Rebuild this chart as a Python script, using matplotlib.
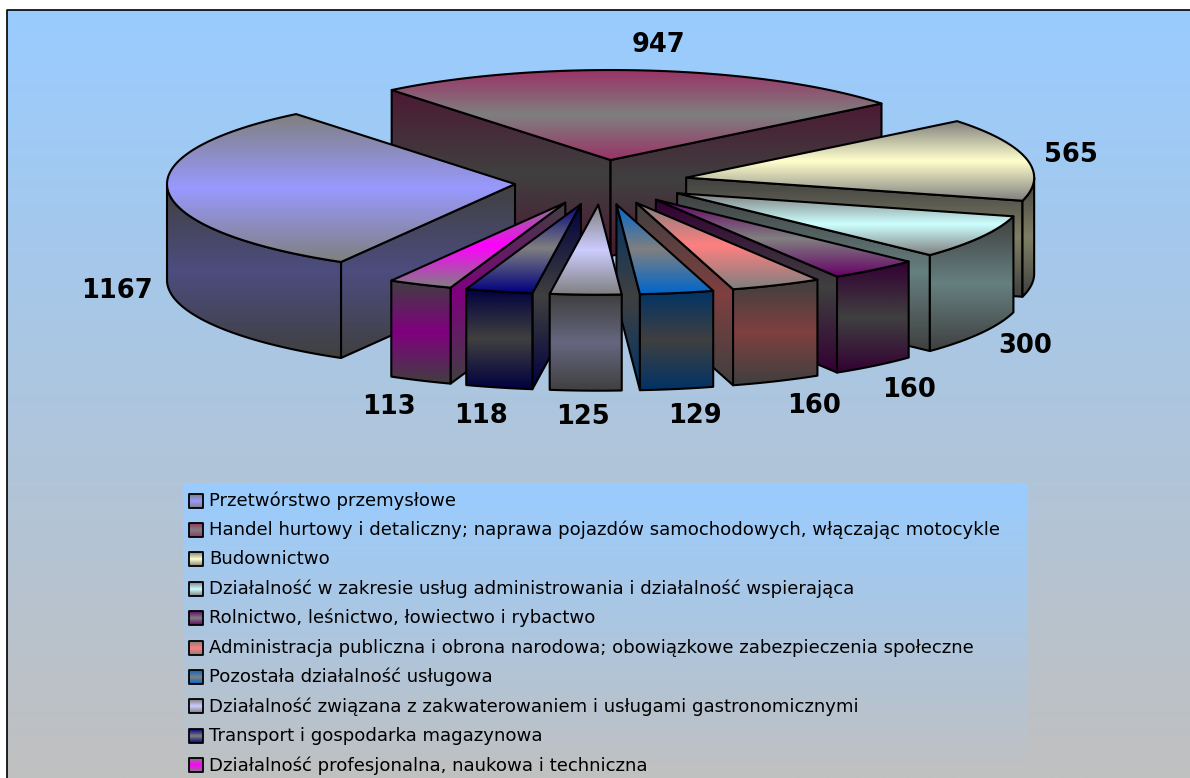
import matplotlib
matplotlib.use('Agg')
import matplotlib.pyplot as plt
import numpy as np
from matplotlib.patches import Polygon

categories = [
    'Przetwórstwo przemysłowe',
    'Handel hurtowy i detaliczny; naprawa pojazdów samochodowych, włączając motocykle',
    'Budownictwo',
    'Działalność w zakresie usług administrowania i działalność wspierająca',
    'Rolnictwo, leśnictwo, łowiectwo i rybactwo',
    'Administracja publiczna i obrona narodowa; obowiązkowe zabezpieczenia społeczne',
    'Pozostała działalność usługowa',
    'Działalność związana z zakwaterowaniem i usługami gastronomicznymi',
    'Transport i gospodarka magazynowa',
    'Działalność profesjonalna, naukowa i techniczna',
]
values = [1167, 947, 565, 300, 160, 160, 129, 125, 118, 113]
colors = ['#9999FF', '#993366', '#FFFFCC', '#CCFFFF', '#660066',
          '#FF8080', '#0066CC', '#CCCCFF', '#000080', '#FF00FF']
# True: grey in the middle of the gradient, colour at the ends
grey_middle = [False, True, False, False, True, False, True, False, True, False]
label_xy = [(117, 291), (658, 45), (1071, 155), (1025, 346), (909, 390),
            (814, 406), (695, 416), (583, 417), (481, 416), (389, 407)]

# pie geometry, in pixels
CX, CY = 601.4, 182.3
RX, RY = 348, 90
DEPTH = 96
EXPLODE = 0.249
START = 240.0

fig = plt.figure(figsize=(11.9, 7.78), dpi=100, facecolor='white')
ax = fig.add_axes([0, 0, 1, 1])
ax.axis('off')

z = [1]


def next_z():
    z[0] += 1
    return z[0]


def gradient(c_a, c_b, linear=False, n=256):
    # c_a at the ends and c_b in the middle, or plain a to b when linear
    a = np.array(matplotlib.colors.to_rgb(c_a))
    b = np.array(matplotlib.colors.to_rgb(c_b))
    t = np.linspace(0, 1, n)[:, None]
    if linear:
        return (a * (1 - t) + b * t)[:, None, :]
    m = 1 - np.abs(2 * t - 1)
    return (a * (1 - m) + b * m)[:, None, :]


def fill_poly(pts, grad, lw=1.5):
    pts = np.array(pts)
    zz = next_z()
    im = ax.imshow(grad, extent=(pts[:, 0].min(), pts[:, 0].max(), pts[:, 1].max(), pts[:, 1].min()),
                   aspect='auto', interpolation='bilinear', zorder=zz)
    p = Polygon(pts, closed=True, facecolor='none', edgecolor='black', lw=lw,
                joinstyle='round', zorder=zz + 0.5)
    ax.add_patch(p)
    im.set_clip_path(p)


def face_grad(color, grey_mid, shade=1.0):
    rgb = tuple(np.array(matplotlib.colors.to_rgb(color)) * shade)
    grey = (0.5 * shade, 0.5 * shade, 0.5 * shade)
    if grey_mid:
        return gradient(rgb, grey)
    return gradient(grey, rgb)


def arc(x0, y0, t1, t2, drop=0):
    t = np.radians(np.linspace(t1, t2, 80))
    return np.column_stack([x0 + RX * np.cos(t), y0 - RY * np.sin(t) + drop])


# chart area, runs off the right and bottom of the picture
ax.imshow(gradient('#99CCFF', '#C0C0C0', True), extent=(7, 1190, 778, 10),
          aspect='auto', zorder=0)
ax.plot([7, 7, 1190], [778, 10, 10], color='black', lw=1.2, zorder=0.5)

# slices, back to front
total = sum(values)
sweeps = [v / total * 360 for v in values]
starts = [START - sum(sweeps[:i]) for i in range(len(values))]
mids = [s - w / 2 for s, w in zip(starts, sweeps)]
order = np.argsort([-np.sin(np.radians(m)) for m in mids])

for i in order:
    t1 = starts[i]
    t2 = t1 - sweeps[i]
    mid = np.radians(mids[i])
    ax0 = CX + EXPLODE * RX * np.cos(mid)
    ay0 = CY - EXPLODE * RY * np.sin(mid)
    apex = np.array([ax0, ay0])
    top = arc(ax0, ay0, t1, t2)

    sides = []
    if np.cos(np.radians(t1)) < 0:
        sides.append([apex, top[0], top[0] + [0, DEPTH], apex + [0, DEPTH]])
    if np.cos(np.radians(t2)) > 0:
        sides.append([apex, top[-1], top[-1] + [0, DEPTH], apex + [0, DEPTH]])
    # outer rim, only where it faces the viewer
    for lo, hi in [(-180, 0), (180, 360)]:
        a = min(t1, hi)
        b = max(t2, lo)
        if a > b:
            r_top = arc(ax0, ay0, a, b)
            r_bot = arc(ax0, ay0, b, a, DEPTH)
            sides.append(list(r_top) + list(r_bot))

    g = face_grad(colors[i], grey_middle[i], 0.5)
    for s in sides:
        fill_poly(s, g)

    fill_poly([apex] + list(top), face_grad(colors[i], grey_middle[i]))

# data labels
for v, (x, y) in zip(values, label_xy):
    ax.text(x, y, str(v), ha='center', va='center', fontsize=18.5, fontweight='bold',
            family='DejaVu Sans', color='black', zorder=500)

# legend
ax.imshow(gradient('#99CCFF', '#C0C0C0', True), extent=(183, 1028, 778, 484),
          aspect='auto', zorder=600)
for i, name in enumerate(categories):
    y = 500.5 + i * 29.42
    z[0] = 610 + i * 2
    box = [(188.5, y - 7), (203, y - 7), (203, y + 7), (188.5, y + 7)]
    fill_poly(box, face_grad(colors[i], grey_middle[i]), lw=1.3)
    ax.text(209, y, name, ha='left', va='center', fontsize=13.1, family='DejaVu Sans',
            color='black', zorder=700)

ax.set_xlim(0, 1190)
ax.set_ylim(778, 0)
fig.savefig('out.png', dpi=100, facecolor='white')
